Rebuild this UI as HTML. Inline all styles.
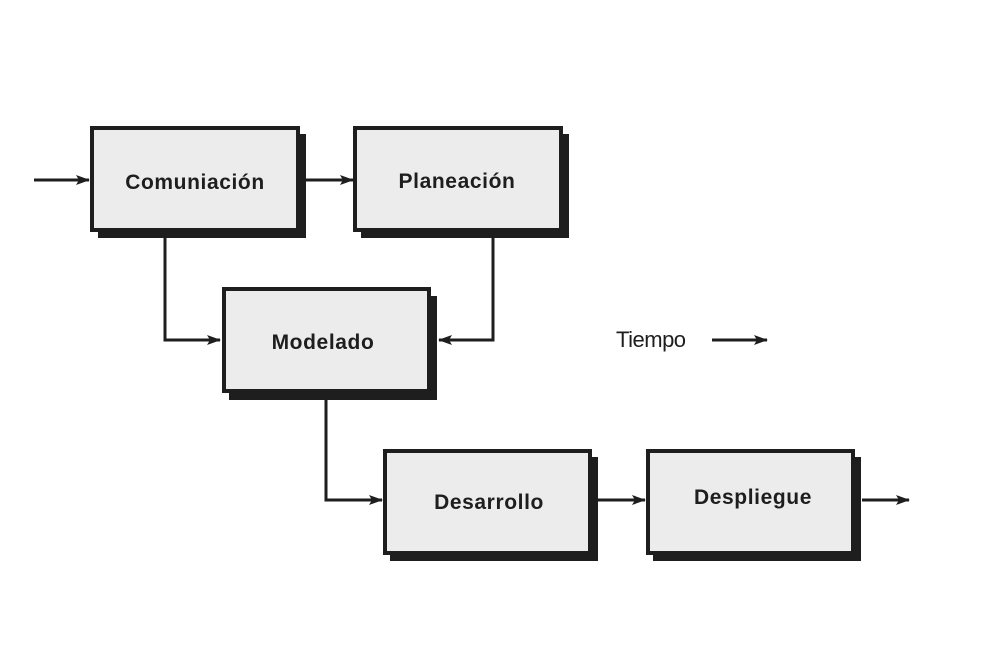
<!DOCTYPE html>
<html><head><meta charset="utf-8"><style>
html,body{margin:0;padding:0;background:#fff;}
svg{display:block;}
text{font-family:"Liberation Sans",sans-serif;font-weight:bold;fill:#1e1e1e;letter-spacing:0.6px;}
</style></head><body>
<svg width="992" height="650" viewBox="0 0 992 650">
<defs>
<marker id="ah" markerWidth="14" markerHeight="10" refX="13" refY="5" orient="auto" markerUnits="userSpaceOnUse">
<path d="M0,0 L14,5 L0,10 L3,5 Z" fill="#1e1e1e"/>
</marker>
</defs>
<g stroke="#1e1e1e" stroke-width="3" fill="none">
<line x1="34" y1="180" x2="89" y2="180" marker-end="url(#ah)"/>
<line x1="306" y1="180" x2="353" y2="180" marker-end="url(#ah)"/>
<polyline points="165,238 165,340 220,340" marker-end="url(#ah)"/>
<polyline points="493,238 493,340 439,340" marker-end="url(#ah)"/>
<polyline points="326,400 326,500 382,500" marker-end="url(#ah)"/>
<line x1="598" y1="500" x2="645" y2="500" marker-end="url(#ah)"/>
<line x1="862" y1="500" x2="909" y2="500" marker-end="url(#ah)"/>
<line x1="712" y1="340" x2="767" y2="340" marker-end="url(#ah)"/>
</g>
<g fill="#1e1e1e">
<rect x="98" y="134" width="208" height="104"/>
<rect x="361" y="134" width="208" height="104"/>
<rect x="229" y="296" width="208" height="104"/>
<rect x="390" y="457" width="208" height="104"/>
<rect x="653" y="457" width="208" height="104"/>
</g>
<g fill="#ececed" stroke="#1e1e1e" stroke-width="4">
<rect x="92" y="128" width="206" height="102"/>
<rect x="355" y="128" width="206" height="102"/>
<rect x="224" y="289" width="205" height="102"/>
<rect x="385" y="451" width="205" height="102"/>
<rect x="648" y="451" width="205" height="102"/>
</g>
<g font-size="21" text-anchor="middle">
<text x="195" y="189">Comuniación</text>
<text x="457" y="188">Planeación</text>
<text x="323" y="349">Modelado</text>
<text x="489" y="509">Desarrollo</text>
<text x="753" y="504">Despliegue</text>
</g>
<text x="616" y="347" font-size="22" style="font-weight:normal;letter-spacing:-0.5px" fill="#333">Tiempo</text>
</svg>
</body></html>
